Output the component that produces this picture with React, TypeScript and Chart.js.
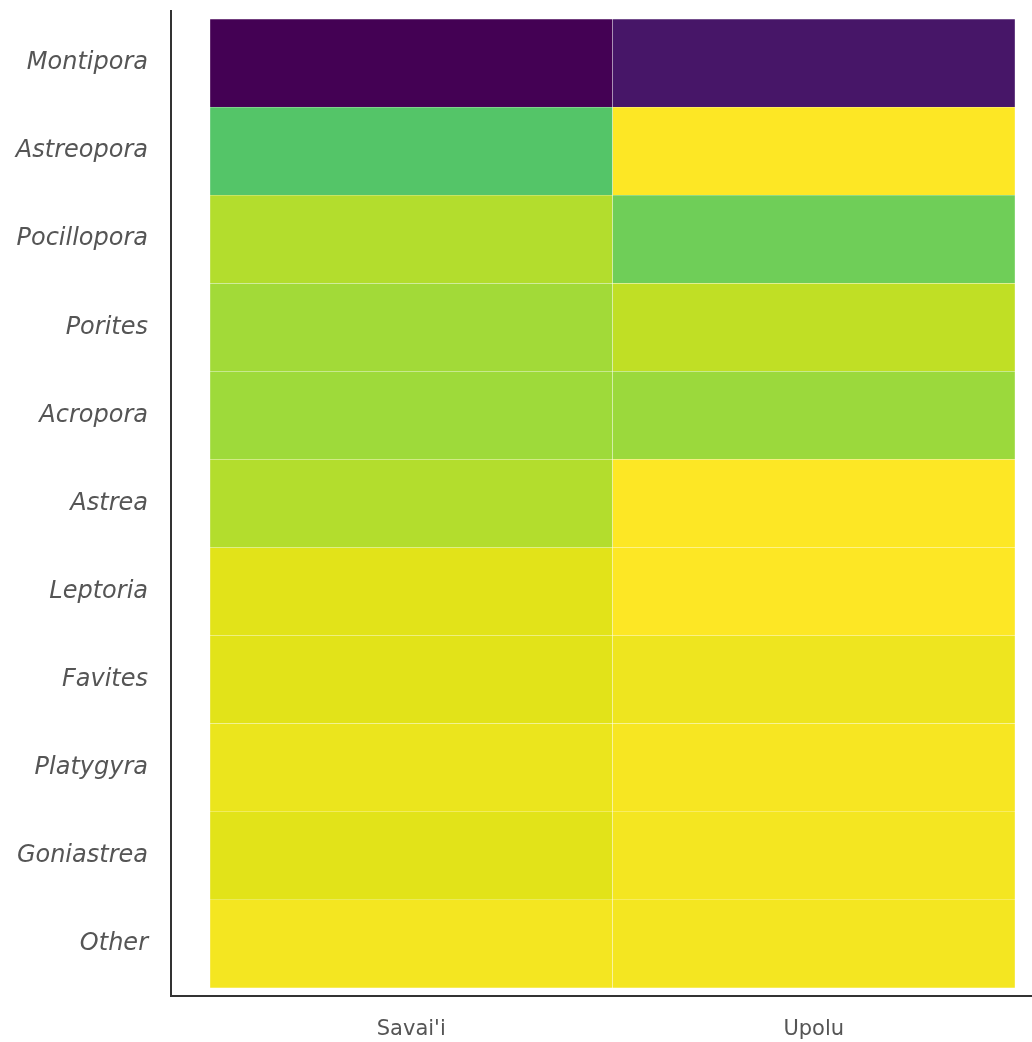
import React, { useEffect, useRef } from "react";
import { Chart, registerables } from "chart.js";

Chart.register(...registerables);

const genera = [
  "Montipora", "Astreopora", "Pocillopora", "Porites", "Acropora", "Astrea",
  "Leptoria", "Favites", "Platygyra", "Goniastrea", "Other",
];
const islands = ["Savai'i", "Upolu"];
// relative intensity (0..1) per genus
const savaiiValues = [0.0, 0.73, 0.885, 0.86, 0.855, 0.885, 0.955, 0.955, 0.97, 0.955, 0.985];
const upoluValues = [0.06, 1.0, 0.78, 0.905, 0.85, 1.0, 1.0, 0.975, 0.99, 0.985, 0.985];

const viridisStops = [
  "#440154", "#471365", "#482475", "#463480", "#414487", "#3b528b", "#355f8d",
  "#2f6c8e", "#2a788e", "#25848e", "#21918c", "#1e9c89", "#22a884", "#2fb47c",
  "#44bf70", "#5ec962", "#7ad151", "#9bd93c", "#bddf26", "#dfe318", "#fde725",
];

function hexToRgb(h: string) {
  return [parseInt(h.slice(1, 3), 16), parseInt(h.slice(3, 5), 16), parseInt(h.slice(5, 7), 16)];
}
function viridis(t: number) {
  const v = Math.max(0, Math.min(1, t)) * (viridisStops.length - 1);
  const i = Math.min(Math.floor(v), viridisStops.length - 2);
  const f = v - i;
  const a = hexToRgb(viridisStops[i]);
  const b = hexToRgb(viridisStops[i + 1]);
  const c = a.map((x, k) => Math.round(x + (b[k] - x) * f));
  return `rgb(${c[0]},${c[1]},${c[2]})`;
}

const axisLines = {
  id: "axisLines",
  afterDraw(chart: any) {
    const { ctx, chartArea } = chart;
    ctx.save();
    ctx.strokeStyle = "#333333";
    ctx.lineWidth = 2;
    ctx.beginPath();
    const x0 = chartArea.left - 39;
    const y0 = chartArea.bottom + 8;
    ctx.moveTo(x0, chartArea.top - 9);
    ctx.lineTo(x0, y0);
    ctx.lineTo(chart.width, y0);
    ctx.stroke();
    ctx.restore();
  },
};

export default function App() {
  const ref = useRef<HTMLCanvasElement>(null);
  useEffect(() => {
    document.body.style.margin = "0";
    const chart = new Chart(ref.current!, {
      type: "bar",
      data: {
        labels: genera,
        datasets: [
          {
            label: islands[0],
            data: genera.map(() => 1),
            backgroundColor: savaiiValues.map(viridis),
            borderColor: "rgba(255,255,255,0.2)",
            borderWidth: 0.5,
            borderSkipped: false,
            barPercentage: 1,
            categoryPercentage: 1,
          },
          {
            label: islands[1],
            data: genera.map(() => 1),
            backgroundColor: upoluValues.map(viridis),
            borderColor: "rgba(255,255,255,0.2)",
            borderWidth: 0.5,
            borderSkipped: false,
            barPercentage: 1,
            categoryPercentage: 1,
          },
        ],
      },
      options: {
        indexAxis: "y",
        responsive: false,
        animation: false,
        layout: { padding: { top: 19, right: 17, left: 0, bottom: 0 } },
        plugins: { legend: { display: false }, tooltip: { enabled: false } },
        scales: {
          x: {
            type: "linear",
            stacked: true,
            min: 0,
            max: 2,
            grid: { display: false, drawTicks: false },
            border: { display: false },
            afterBuildTicks: (scale: any) => {
              scale.ticks = islands.map((_, i) => ({ value: i + 0.5 }));
            },
            afterFit: (scale: any) => {
              scale.height = 54;
              scale.paddingLeft = 0;
              scale.paddingRight = 0;
            },
            ticks: {
              autoSkip: false,
              maxRotation: 0,
              padding: 29,
              color: "#555555",
              font: { family: "DejaVu Sans", size: 21, weight: "normal" },
              callback: (v: any) => islands[Math.floor(Number(v))],
            },
          },
          y: {
            type: "category",
            stacked: true,
            grid: { display: false, drawTicks: false },
            border: { display: false },
            afterFit: (scale: any) => {
              scale.width = 210;
              scale.paddingTop = 0;
              scale.paddingBottom = 0;
            },
            ticks: {
              padding: 62,
              color: "#555555",
              font: { family: "DejaVu Sans", size: 24, style: "italic", weight: "normal" },
            },
          },
        },
      },
      plugins: [axisLines],
    });
    return () => chart.destroy();
  }, []);
  return (
    <div style={{ width: 1032, height: 1042 }}>
      <canvas ref={ref} width={1032} height={1042} />
    </div>
  );
}
